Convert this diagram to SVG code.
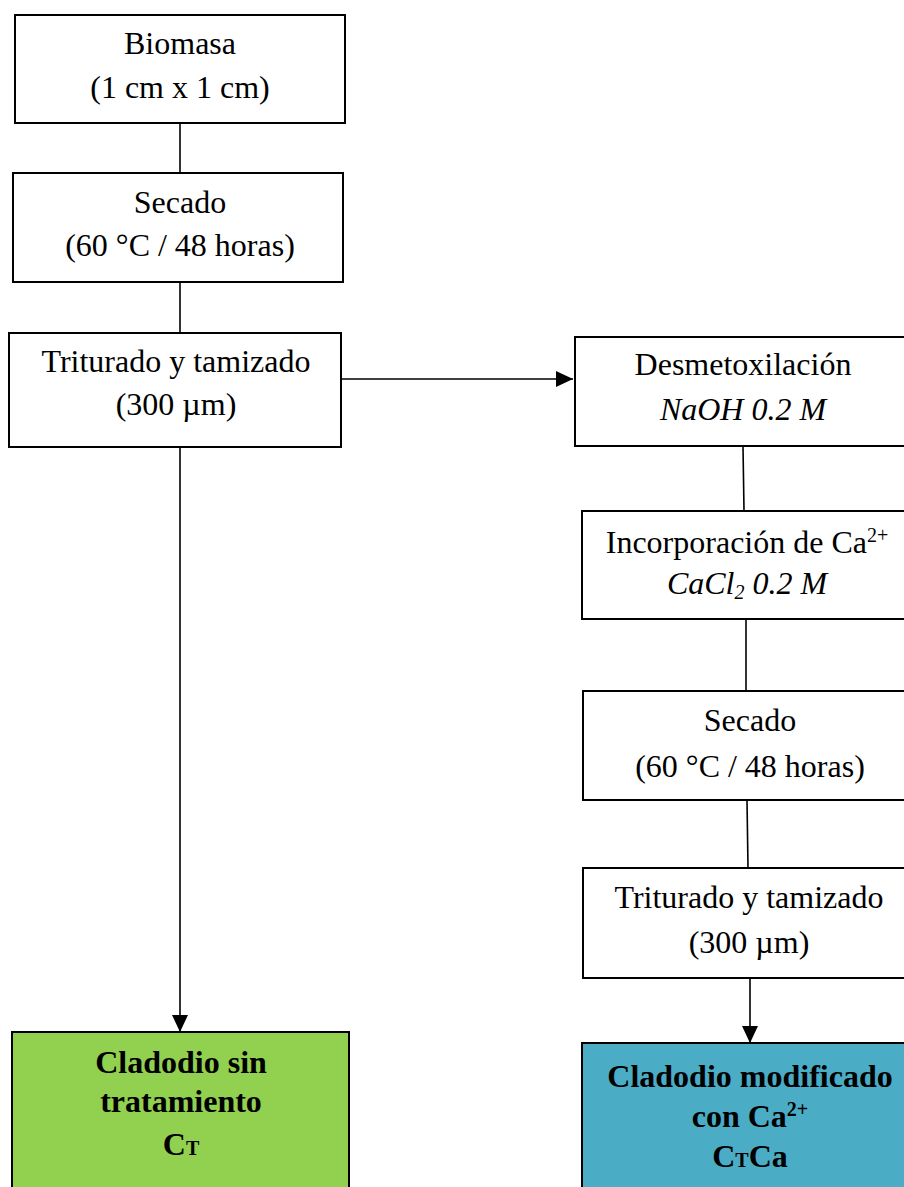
<svg xmlns="http://www.w3.org/2000/svg" width="904" height="1187" viewBox="0 0 904 1187">
<style>
.box{fill:#fff;stroke:#000;stroke-width:2}
.t{font-family:"Liberation Serif","Times New Roman",serif;font-size:32px;text-anchor:middle;fill:#000}
.b{font-weight:bold}
.i{font-style:italic}
.c{stroke:#000;stroke-width:1.6;fill:none}
</style>
<defs>
<marker id="ah" markerUnits="userSpaceOnUse" markerWidth="18" markerHeight="16" refX="17" refY="8" orient="auto">
<path d="M0,0 L17,8 L0,16 Z" fill="#000"/>
</marker>
</defs>
<g id="connectors">
<line class="c" x1="180" y1="123" x2="180" y2="173"/>
<line class="c" x1="180" y1="282" x2="180" y2="333"/>
<line class="c" x1="341" y1="379" x2="573" y2="379" marker-end="url(#ah)"/>
<line class="c" x1="180" y1="447" x2="180" y2="1032" marker-end="url(#ah)"/>
<line class="c" x1="743" y1="446" x2="744" y2="511"/>
<line class="c" x1="746" y1="619" x2="746" y2="691"/>
<line class="c" x1="747" y1="800" x2="748" y2="868"/>
<line class="c" x1="750" y1="978" x2="750" y2="1043" marker-end="url(#ah)"/>
</g>
<g id="n1"><rect class="box" x="15" y="15" width="330" height="108"/>
<text class="t" x="180" y="54">Biomasa</text><text class="t" x="180" y="98">(1 cm x 1 cm)</text></g>
<g id="n2"><rect class="box" x="13" y="173" width="330" height="109"/>
<text class="t" x="180" y="213">Secado</text><text class="t" x="180" y="256">(60 °C / 48 horas)</text></g>
<g id="n3"><rect class="box" x="9" y="333" width="332" height="114"/>
<text class="t" x="176" y="372">Triturado y tamizado</text><text class="t" x="176" y="415">(300 µm)</text></g>
<g id="n4"><rect class="box" x="575" y="337" width="340" height="109"/>
<text class="t" x="743" y="375">Desmetoxilación</text><text class="t i" x="743" y="420">NaOH 0.2 M</text></g>
<g id="n5"><rect class="box" x="582" y="511" width="340" height="108"/>
<text class="t" x="747" y="553">Incorporación de Ca<tspan font-size="20" dy="-11">2+</tspan></text>
<text class="t i" x="747" y="594">CaCl<tspan font-size="20" dy="5">2</tspan><tspan dy="-5"> 0.2 M</tspan></text></g>
<g id="n6"><rect class="box" x="583" y="691" width="340" height="109"/>
<text class="t" x="750" y="731">Secado</text><text class="t" x="750" y="777">(60 °C / 48 horas)</text></g>
<g id="n7"><rect class="box" x="583" y="868" width="340" height="110"/>
<text class="t" x="749" y="908">Triturado y tamizado</text><text class="t" x="749" y="953">(300 µm)</text></g>
<g id="n8"><rect class="box" x="12" y="1032" width="337" height="170" style="fill:#92D050"/>
<text class="t b" x="181" y="1073">Cladodio sin</text><text class="t b" x="181" y="1112">tratamiento</text>
<text class="t b" x="181" y="1155">C<tspan font-size="20">T</tspan></text></g>
<g id="n9"><rect class="box" x="582" y="1043" width="340" height="160" style="fill:#4BACC6"/>
<text class="t b" x="750" y="1087">Cladodio modificado</text>
<text class="t b" x="750" y="1127">con Ca<tspan font-size="20" dy="-11">2+</tspan></text>
<text class="t b" x="750" y="1167">C<tspan font-size="20">T</tspan>Ca</text></g>
</svg>
